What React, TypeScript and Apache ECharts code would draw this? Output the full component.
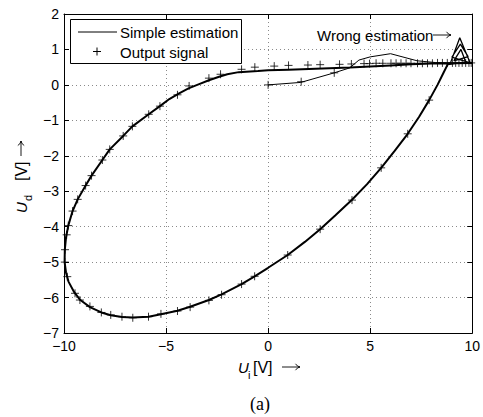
import React, { useEffect, useRef } from 'react';
import * as echarts from 'echarts';

// Simple estimation: start-up transient (thin)
const transientX = [0, 1.6, 3.24, 4.0, 4.45, 5.0, 6.0, 7.3, 8.2, 9.0];
const transientY = [0, 0.07, 0.34, 0.48, 0.7, 0.79, 0.88, 0.68, 0.63, 0.61];

// Simple estimation: steady loop
const loopX = [10, 9, 8, 7, 6, 5, 4, 3, 2, 1, 0.5, 0, -0.5, -1.44, -2.0, -2.4, -2.9, -3.38, -3.9, -4.36, -4.84, -5.3, -5.85, -6.65, -7.1, -7.76, -8.12, -8.65, -8.94, -9.33, -9.58, -9.79, -9.9, -9.96, -9.97, -9.9, -9.78, -9.5, -9.2, -8.73, -8.17, -7.71, -7.16, -6.63, -5.86, -5.25, -4.44, -3.82, -2.9, -2.28, -1.3, -0.66, 0, 0.96, 1.8, 2.55, 3.3, 4.11, 4.85, 5.54, 6.2, 6.84, 7.4, 7.89, 8.3, 8.6, 8.8, 9.2, 10];
const loopY = [0.62, 0.61, 0.6, 0.58, 0.55, 0.52, 0.49, 0.47, 0.45, 0.43, 0.42, 0.41, 0.39, 0.36, 0.3, 0.23, 0.13, 0.02, -0.1, -0.24, -0.4, -0.6, -0.83, -1.17, -1.44, -1.82, -2.12, -2.56, -2.84, -3.23, -3.56, -3.97, -4.3, -4.65, -5.0, -5.3, -5.55, -5.85, -6.07, -6.27, -6.42, -6.5, -6.55, -6.56, -6.54, -6.47, -6.37, -6.26, -6.07, -5.91, -5.62, -5.4, -5.16, -4.8, -4.43, -4.07, -3.68, -3.24, -2.8, -2.34, -1.86, -1.38, -0.9, -0.43, 0.0, 0.35, 0.58, 0.61, 0.62];

// Simple estimation: wrong estimation spikes
const spikeX = [8.92, 9.39, 9.9, 9.0, 9.42, 9.8, 9.1, 9.45, 9.7];
const spikeY = [0.6, 1.33, 0.62, 0.78, 1.15, 0.8, 0.68, 1.0, 0.62];

// Output signal samples
const outputX = [0, 1.62, 3.24,
  -1.3, -0.65, 0.3, 1.0, 1.95, 2.55, 3.5, 4.08, 4.7, 4.97,
  5.29, 5.62, 6.02, 6.27, 6.51, 6.76, 7.0, 7.32, 7.56, 7.81, 8.05, 8.3, 8.54, 8.78, 9.03, 9.19, 9.35, 9.51, 9.68, 9.84, 9.95,
  -2.33, -2.9, -3.87, -4.44, -5.3, -5.85, -6.65, -7.1, -7.76, -8.12, -8.65, -8.94, -9.33, -9.58, -9.79, -9.87, -9.95, -9.96, -9.84, -9.46, -9.22, -8.73, -8.17, -7.71, -7.16, -6.63, -5.86, -5.25, -4.44, -3.82, -2.9, -2.28, -1.3, -0.66, 0.96, 2.55, 4.11, 5.54, 6.84, 7.89];
const outputY = [0, 0.09, 0.34,
  0.44, 0.5, 0.53, 0.55, 0.56, 0.57, 0.58, 0.59, 0.6, 0.6,
  0.61, 0.61, 0.61, 0.61, 0.61, 0.61, 0.61, 0.61, 0.61, 0.61, 0.61, 0.62, 0.62, 0.62, 0.62, 0.62, 0.62, 0.62, 0.62, 0.62, 0.62,
  0.3, 0.19, -0.03, -0.28, -0.6, -0.83, -1.17, -1.44, -1.82, -2.12, -2.56, -2.84, -3.23, -3.56, -3.97, -4.23, -4.65, -5.0, -5.41, -5.88, -6.07, -6.25, -6.42, -6.49, -6.54, -6.57, -6.54, -6.46, -6.38, -6.27, -6.08, -5.92, -5.62, -5.4, -4.8, -4.07, -3.25, -2.34, -1.38, -0.43];

const xTicks = { min: -10, max: 10, interval: 5 };
const yTicks = { min: -7, max: 2, interval: 1 };
const legendNames = ['Simple estimation', 'Output signal'];

const zip = (xs: number[], ys: number[]) => xs.map((x, i) => [x, ys[i]]);
const minus = (v: number) => String(v).replace('-', '\u2212');
const FONT = 'Liberation Sans';

const txt = (x: number, y: number, text: string, size: number, extra: any = {}) => ({
  type: 'text', x, y, z: 100,
  style: { text, fontSize: size, fontFamily: FONT, fill: '#000', verticalAlign: 'middle', align: 'left', ...extra },
});

// thin "\rightarrow" drawn with lines
const arrow = (x: number, y: number, len: number) => ({
  type: 'group', x, y, z: 100, children: [
    { type: 'line', shape: { x1: 0, y1: 0, x2: len, y2: 0 }, style: { stroke: '#000', lineWidth: 0.9 } },
    { type: 'polyline', shape: { points: [[len - 4.5, -3.2], [len - 2.5, -1], [len, 0], [len - 2.5, 1], [len - 4.5, 3.2]] },
      style: { stroke: '#000', lineWidth: 0.9, fill: 'none' } },
  ],
});

export default function App() {
  const ref = useRef<HTMLDivElement>(null);
  useEffect(() => {
    if (!ref.current) return;
    const chart = echarts.init(ref.current, null, { renderer: 'svg' });
    const axisLine = { onZero: false, lineStyle: { color: '#000', width: 1 } };
    const tick = { inside: true, length: 5, lineStyle: { color: '#000' } };
    const split = { show: true, lineStyle: { color: '#8a8a8a', type: [1, 3] as any, width: 1 } };
    chart.setOption({
      animation: false,
      backgroundColor: '#fff',
      grid: { left: 64, right: 8, top: 14, bottom: 84 },
      xAxis: [
        { type: 'value', ...xTicks, position: 'bottom', axisLine, axisTick: tick,
          axisLabel: { formatter: minus, color: '#000', fontSize: 14, fontFamily: FONT, margin: 6 },
          splitLine: split },
        { type: 'value', ...xTicks, position: 'top', axisLine, axisTick: tick,
          axisLabel: { show: false }, splitLine: { show: false } },
      ],
      yAxis: [
        { type: 'value', ...yTicks, position: 'left', axisLine, axisTick: tick,
          axisLabel: { formatter: minus, color: '#000', fontSize: 14, fontFamily: FONT, margin: 5 },
          splitLine: split },
        { type: 'value', ...yTicks, position: 'right', axisLine, axisTick: tick,
          axisLabel: { show: false }, splitLine: { show: false } },
      ],
      series: [
        { type: 'line', name: legendNames[0], data: zip(transientX, transientY), symbol: 'none',
          lineStyle: { color: '#000', width: 1 }, itemStyle: { color: '#000' } },
        { type: 'line', name: legendNames[0], data: zip(loopX, loopY), symbol: 'none',
          lineStyle: { color: '#000', width: 2 }, itemStyle: { color: '#000' } },
        { type: 'line', name: legendNames[0], data: zip(spikeX, spikeY), symbol: 'none',
          lineStyle: { color: '#000', width: 1.3 }, itemStyle: { color: '#000' } },
        { type: 'scatter', name: legendNames[1], data: zip(outputX, outputY),
          symbol: 'path://M0,5L10,5M5,0L5,10', symbolSize: 8,
          itemStyle: { color: 'none', borderColor: '#000', borderWidth: 1 } },
      ],
      graphic: [
        // legend
        { type: 'rect', z: 90, shape: { x: 70.5, y: 19.5, width: 171, height: 44 },
          style: { fill: '#fff', stroke: '#000', lineWidth: 1 } },
        { type: 'line', z: 100, shape: { x1: 78, y1: 32, x2: 117, y2: 32 }, style: { stroke: '#000', lineWidth: 1 } },
        { type: 'line', z: 100, shape: { x1: 93, y1: 51.5, x2: 101, y2: 51.5 }, style: { stroke: '#000', lineWidth: 1 } },
        { type: 'line', z: 100, shape: { x1: 97, y1: 47.5, x2: 97, y2: 55.5 }, style: { stroke: '#000', lineWidth: 1 } },
        txt(120, 32, legendNames[0], 15),
        txt(120, 52, legendNames[1], 15),
        // annotation
        txt(317, 35, 'Wrong estimation', 15),
        arrow(433, 35, 18),
        // x axis name
        txt(238, 367, 'U', 15, { fontStyle: 'italic' }),
        txt(248, 375, 'i', 11),
        txt(253, 367, '[V]', 16),
        arrow(282, 367, 18),
        // y axis name
        { type: 'group', x: 21, y: 213, rotation: Math.PI / 2, children: [
          txt(0, 0, 'U', 15, { fontStyle: 'italic' }),
          txt(12, 7, 'd', 11),
          txt(32, 0, '[V]', 16),
          arrow(57, 0, 15),
        ] },
        // caption
        txt(260, 404, '(a)', 18, { fontFamily: 'Liberation Serif', align: 'center' }),
      ],
    });
    return () => chart.dispose();
  }, []);
  return <div ref={ref} style={{ width: 483, height: 417, position: 'absolute', left: 0, top: 0 }} />;
}
